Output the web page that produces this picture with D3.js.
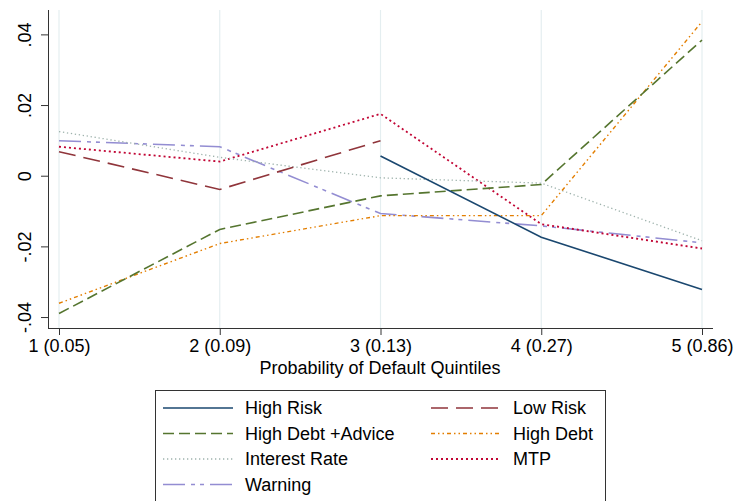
<!DOCTYPE html>
<html>
<head>
<meta charset="utf-8">
<script src="https://cdn.jsdelivr.net/npm/d3@7"></script>
<style>
  html, body { margin: 0; padding: 0; background: #fff; }
  svg { display: block; font-family: "Liberation Sans", Arial, sans-serif; }
</style>
</head>
<body>
<svg width="735" height="501"></svg>
<script>
// quintiles on the x axis
var quintiles = [1, 2, 3, 4, 5];
var quintileLabels = ["1 (0.05)", "2 (0.09)", "3 (0.13)", "4 (0.27)", "5 (0.86)"];
var yTicks = [-0.04, -0.02, 0, 0.02, 0.04];
var yTickLabels = ["-.04", "-.02", "0", ".02", ".04"];

// one array per series, null = not estimated
var highRisk     = [null, null, 0.0056, -0.0174, -0.0322];
var lowRisk      = [0.0068, -0.0039, 0.0099, null, null];
var highDebtAdv  = [-0.0390, -0.0152, -0.0057, -0.0025, 0.0384];
var highDebt     = [-0.0361, -0.0192, -0.0113, -0.0113, 0.0436];
var interestRate = [0.0125, 0.0052, -0.0006, -0.0021, -0.0184];
var mtp          = [0.0082, 0.0040, 0.0175, -0.0137, -0.0206];
var warning      = [0.0099, 0.0082, -0.0107, -0.0142, -0.0190];

var seriesNames = ["High Risk", "Low Risk", "High Debt +Advice", "High Debt",
                   "Interest Rate", "MTP", "Warning"];

var series = [
    {name: seriesNames[0], values: highRisk,     color: "#1a476f", dash: null,             width: 1.6},
    {name: seriesNames[1], values: lowRisk,      color: "#90353b", dash: "17,8",           width: 1.6},
    {name: seriesNames[2], values: highDebtAdv,  color: "#55752f", dash: "11,5",           width: 1.6},
    {name: seriesNames[3], values: highDebt,     color: "#e37e00", dash: "4,3,1.5,3,1.5,3", width: 1.4},
    {name: seriesNames[4], values: interestRate, color: "#9fb3ad", dash: "1.3,2.7",        width: 1.3},
    {name: seriesNames[5], values: mtp,          color: "#c10534", dash: "2,3",            width: 1.8},
    {name: seriesNames[6], values: warning,      color: "#938dd2", dash: "22,6,4,5,4,6",   width: 1.6}
];

var svg = d3.select("svg");

var scaleX = d3.scaleLinear().domain([1, 5]).range([59, 702]);
var scaleY = d3.scaleLinear().domain([-0.0431, 0.0469]).range([328, 10]);

// grid lines at each quintile
svg.append("g").selectAll("line")
    .data(quintiles)
    .enter().append("line")
    .attr("x1", function (d) { return scaleX(d); })
    .attr("x2", function (d) { return scaleX(d); })
    .attr("y1", 10)
    .attr("y2", 328)
    .attr("stroke", "#e4eef0")
    .attr("stroke-width", 1.2);

// axes
var axisX = svg.append("g")
    .attr("transform", "translate(0,328)")
    .call(d3.axisBottom(scaleX)
        .tickValues(quintiles)
        .tickSize(7)
        .tickPadding(4)
        .tickFormat(function (d, i) { return quintileLabels[i]; }));
axisX.select(".domain").attr("d", "M48,0.5H713");

var axisY = svg.append("g")
    .attr("transform", "translate(48,0)")
    .call(d3.axisLeft(scaleY)
        .tickValues(yTicks)
        .tickSize(7)
        .tickFormat(function (d, i) { return yTickLabels[i]; }));
axisY.select(".domain").attr("d", "M0.5,10V328");

svg.selectAll(".domain").attr("stroke", "#333");
svg.selectAll(".tick line").attr("stroke", "#333");
svg.selectAll(".tick text")
    .attr("font-family", "'Liberation Sans', Arial, sans-serif")
    .attr("font-size", 18)
    .attr("fill", "#000");

axisY.selectAll(".tick text")
    .attr("transform", "translate(-17,0) rotate(-90)")
    .attr("x", 0)
    .attr("dy", 0)
    .attr("text-anchor", "middle");

svg.append("text")
    .attr("x", 380)
    .attr("y", 374)
    .attr("text-anchor", "middle")
    .attr("font-size", 18)
    .text("Probability of Default Quintiles");

// series lines
var line = d3.line()
    .defined(function (d) { return d.v !== null; })
    .x(function (d) { return scaleX(d.q); })
    .y(function (d) { return scaleY(d.v); });

svg.append("g").selectAll("path")
    .data(series.slice().reverse())
    .enter().append("path")
    .attr("fill", "none")
    .attr("stroke", function (d) { return d.color; })
    .attr("stroke-width", function (d) { return d.width; })
    .attr("stroke-dasharray", function (d) { return d.dash; })
    .attr("d", function (d) {
        return line(d.values.map(function (v, i) { return {q: quintiles[i], v: v}; }));
    });

// legend
var legend = svg.append("g");
legend.append("rect")
    .attr("x", 155.5)
    .attr("y", 390.5)
    .attr("width", 450)
    .attr("height", 130)
    .attr("fill", "#fff")
    .attr("stroke", "#333");

var item = legend.selectAll(".item")
    .data(series)
    .enter().append("g")
    .attr("class", "item")
    .attr("transform", function (d, i) {
        var col = i % 2, row = Math.floor(i / 2);
        return "translate(" + (col ? 431 : 163) + "," + (408 + row * 25.5) + ")";
    });

item.append("line")
    .attr("x1", 0)
    .attr("x2", 70)
    .attr("stroke", function (d) { return d.color; })
    .attr("stroke-width", function (d) { return d.width; })
    .attr("stroke-dasharray", function (d) { return d.dash; });

item.append("text")
    .attr("x", 82)
    .attr("dy", "0.35em")
    .attr("font-size", 18)
    .text(function (d) { return d.name; });
</script>
</body>
</html>
